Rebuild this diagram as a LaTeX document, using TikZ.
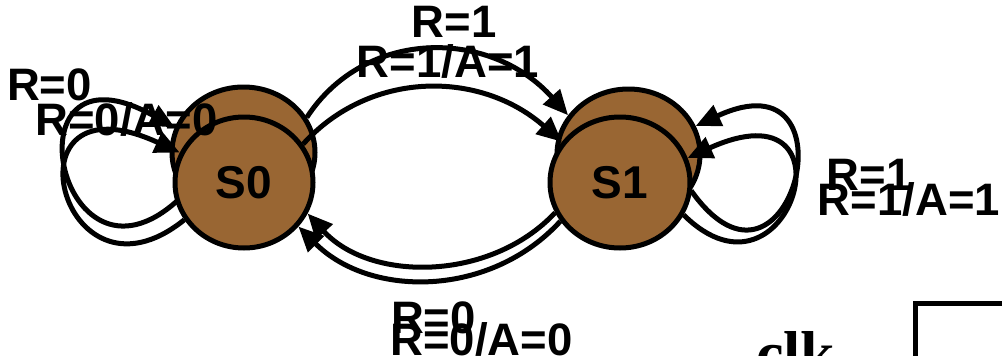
\documentclass[tikz,border=0pt]{standalone}
\usepackage{fontspec}
\usetikzlibrary{shapes.geometric,arrows.meta}
\newfontfamily\lblfamily{Liberation Sans}
\newfontfamily\clkfamily{Liberation Serif}
\definecolor{brownfill}{RGB}{153,102,51}
\tikzset{
  st/.style={ellipse, draw=black, line width=5pt, fill=brownfill, inner sep=0pt,
    font=\lblfamily\bfseries\fontsize{46pt}{50pt}\selectfont},
  tr/.style={line width=5pt, -{Triangle[length=25pt,width=22pt]}},
  lbl/.style={font=\lblfamily\bfseries\fontsize{45.5pt}{50pt}\selectfont, inner sep=0pt, anchor=base}
}
\begin{document}
\begin{tikzpicture}[x=1pt,y=-1pt]
\useasboundingbox (0,0) rectangle (1002,356);
% back diagram
\node[st, minimum width=143pt, minimum height=131pt] (s0b) at (243.5,152.5) {};
\node[st, minimum width=143pt, minimum height=131pt] (s1b) at (628.5,154.5) {};
\draw[tr] (s0b.29) .. controls (365,28) and (490,28) .. (s1b.147);
\draw[tr] (s0b.215) .. controls (60,320) and (0,30) .. (s0b.160);
\draw[tr] (s1b.-30) .. controls (790,330) and (860,50) .. (s1b.23);
% front diagram
\node[st, minimum width=138pt, minimum height=131pt] (s0f) at (244,182.5) {S0};
\node[st, minimum width=140pt, minimum height=131pt] (s1f) at (620,182.5) {S1};
\draw[tr] (s1f.205) .. controls (490,282) and (370,282) .. (s0f.-26);
\draw[tr] (s0f.33) .. controls (370,70) and (480,70) .. (s1f.145);
\draw[tr] (s1f.213) .. controls (490,298) and (370,298) .. (s0f.-39);
\draw[tr] (s0f.212) .. controls (60,320) and (0,70) .. (s0f.155);
\draw[tr] (s1f.-27) .. controls (790,320) and (860,80) .. (s1f.20);
% labels
\node[lbl] (l1) at (49.5,100) {R=0};
\node[lbl] (l2) at (126.5,135) {R=0/A=0};
\node[lbl] (l3) at (454,37) {R=1};
\node[lbl] (l4) at (448,77) {R=1/A=1};
\node[lbl] (l5) at (869,190) {R=1};
\node[lbl] (l6) at (909,215) {R=1/A=1};
\node[lbl] (l7) at (433.5,333) {R=0};
\node[lbl] (l8) at (481.5,355) {R=0/A=0};
% clk
\node[font=\clkfamily\bfseries\fontsize{62pt}{66pt}\selectfont, inner sep=0pt, anchor=base west] (clk) at (756,374) {clk};
\coordinate (w0) at (915,370);
\coordinate (w1) at (915,303);
\coordinate (w2) at (1010,303);
\draw[line width=5pt] (w0) -- (w1) -- (w2);
\end{tikzpicture}
\end{document}
